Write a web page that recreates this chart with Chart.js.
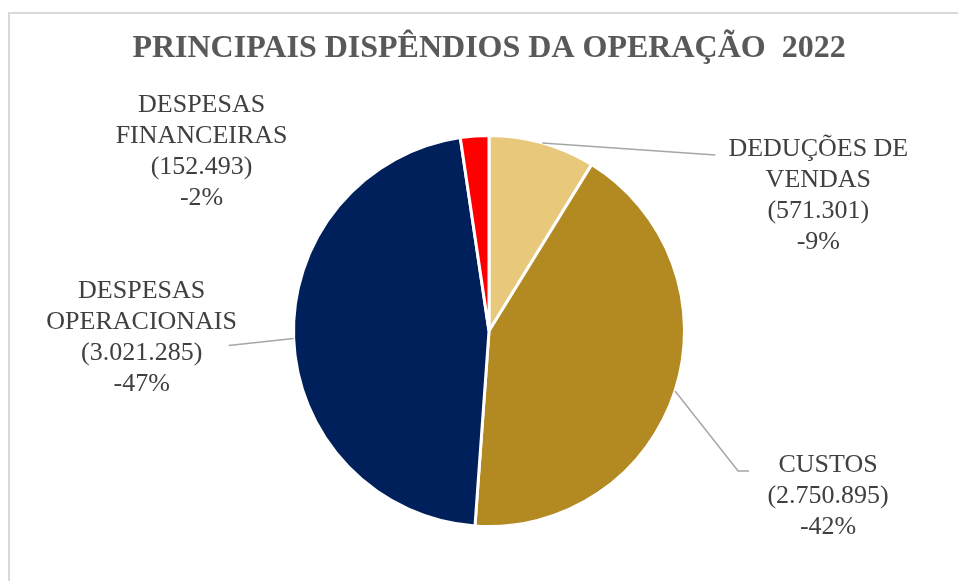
<!DOCTYPE html>
<html>
<head>
<meta charset="utf-8">
<script src="https://cdn.jsdelivr.net/npm/chart.js@4"></script>
<style>
  html, body { margin: 0; padding: 0; background: #fff; overflow: hidden; }
  #wrap { position: relative; width: 958px; height: 581px; }
  #frame { position: absolute; left: 8px; top: 12px; width: 1000px; height: 1000px;
           border-left: 2px solid #d9d9d9; border-top: 2px solid #d9d9d9; pointer-events: none; }
  canvas { position: absolute; left: 0; top: 0; }
</style>
</head>
<body>
<div id="wrap">
  <div id="frame"></div>
  <canvas id="pieChart" width="958" height="581"></canvas>
</div>
<script>
// data
const categories = [
  ["DEDUÇÕES DE", "VENDAS"],
  ["CUSTOS"],
  ["DESPESAS", "OPERACIONAIS"],
  ["DESPESAS", "FINANCEIRAS"]
];
const values = [-571301, -2750895, -3021285, -152493];
const colors = ["#e8c87a", "#b38a22", "#00205b", "#ff0000"];

// where each label sits, relative to the point on the slice edge
const labelPlacement = [
  { line: [[173, 12]], text: [276, 13] },
  { line: [[63, 80], [74, 80]], text: [153, 81] },
  { line: [[-65, 7]], text: [-152, -40] },
  { line: [], text: [-273, -24] }
];

function fmtThousands(n) {
  return String(n).replace(/\B(?=(\d{3})+(?!\d))/g, ".");
}

const outsideLabels = {
  id: "outsideLabels",
  afterDatasetsDraw(chart) {
    const ctx = chart.ctx;
    const meta = chart.getDatasetMeta(0);
    const total = meta.total;
    ctx.save();
    meta.data.forEach((arc, i) => {
      const mid = (arc.startAngle + arc.endAngle) / 2;
      const ax = arc.x + Math.cos(mid) * arc.outerRadius;
      const ay = arc.y + Math.sin(mid) * arc.outerRadius;
      const p = labelPlacement[i];

      if (p.line.length) {
        ctx.strokeStyle = "#a6a6a6";
        ctx.lineWidth = 1.5;
        ctx.beginPath();
        ctx.moveTo(ax, ay);
        p.line.forEach(pt => ctx.lineTo(ax + pt[0], ay + pt[1]));
        ctx.stroke();
      }

      const v = values[i];
      const valTxt = v < 0 ? "(" + fmtThousands(Math.abs(v)) + ")" : fmtThousands(v);
      const pct = Math.round(v / total * 100);
      const lines = categories[i].concat([valTxt, pct + "%"]);

      ctx.fillStyle = "#404040";
      ctx.font = "26px 'Liberation Serif'";
      ctx.textAlign = "center";
      ctx.textBaseline = "alphabetic";
      lines.forEach((t, k) => {
        ctx.fillText(t, ax + p.text[0], ay + p.text[1] + k * 31);
      });
    });
    ctx.restore();
  }
};

new Chart(document.getElementById("pieChart"), {
  type: "pie",
  data: {
    labels: categories,
    datasets: [{
      data: values,
      backgroundColor: colors,
      borderColor: "#ffffff",
      borderWidth: 3
    }]
  },
  options: {
    responsive: false,
    animation: false,
    layout: { padding: { top: 0, left: 20, right: 0, bottom: 53 } },
    plugins: {
      legend: { display: false },
      tooltip: { enabled: false },
      title: {
        display: true,
        text: "PRINCIPAIS DISPÊNDIOS DA OPERAÇÃO  2022",
        color: "#595959",
        font: { family: "'Liberation Serif'", size: 32, weight: "bold", lineHeight: 1.2 },
        padding: { top: 30, bottom: 65.6 }
      }
    }
  },
  plugins: [outsideLabels]
});
</script>
</body>
</html>
